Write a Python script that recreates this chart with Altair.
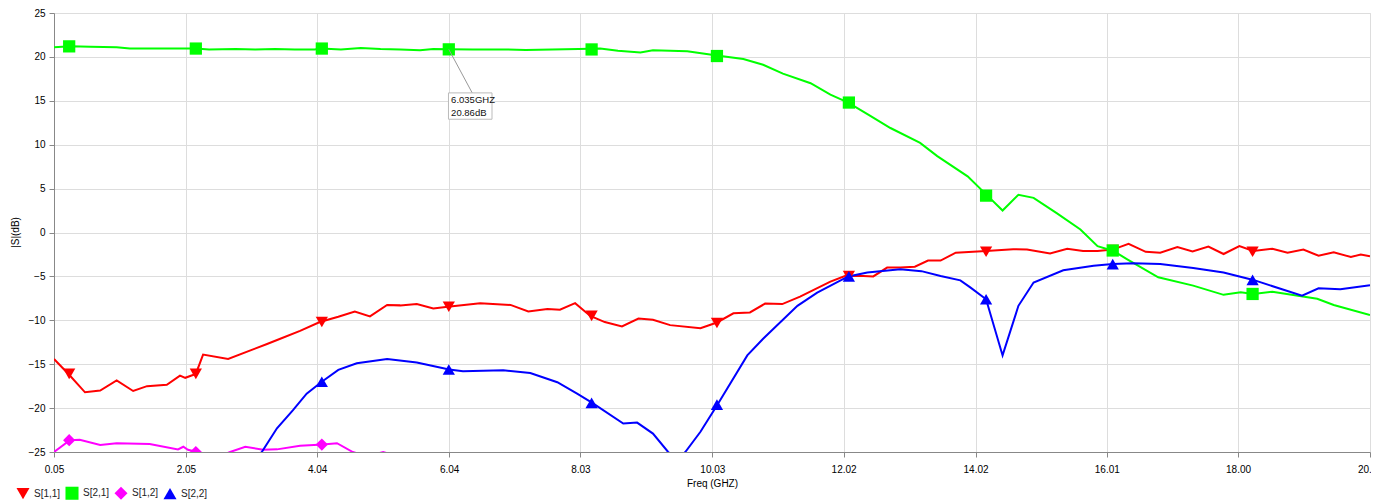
import altair as alt
import pandas as pd

SERIES = ["S[1,1]", "S[2,1]", "S[1,2]", "S[2,2]"]
COLORS = ["#FF0000", "#00FF00", "#FF00FF", "#0000FF"]
SHAPES = ["triangle-down", "square", "diamond", "triangle-up"]

X_TICKS = [0.05, 2.05, 4.04, 6.04, 8.03, 10.03, 12.02, 14.02, 16.01, 18.00, 20.00]
Y_TICKS = [-25, -20, -15, -10, -5, 0, 5, 10, 15, 20, 25]

# S[2,1]
s21_f = [0.05, 0.3, 0.6, 1.0, 1.2, 1.6, 2.0, 2.2, 2.4, 2.8, 3.1, 3.4, 3.7, 4.0, 4.1, 4.4, 4.7,
         5.0, 5.3, 5.6, 5.8, 6.035, 6.4, 6.8, 7.2, 7.6, 8.0, 8.33, 8.6, 8.94, 9.13, 9.65, 10.1,
         10.5, 10.8, 11.1, 11.52, 11.82, 12.09, 12.4, 12.73, 13.18, 13.44, 13.9, 14.2, 14.43,
         14.67, 14.9, 15.25, 15.61, 15.87, 16.11, 16.32, 16.79, 17.32, 17.78, 18.04, 18.23,
         18.52, 19.2, 19.45, 20.0]
s21_db = [21.1, 21.2, 21.15, 21.1, 20.95, 20.95, 20.95, 20.95, 20.85, 20.9, 20.85, 20.9, 20.85,
          20.85, 20.95, 20.85, 21.0, 20.9, 20.85, 20.75, 20.9, 20.86, 20.85, 20.85, 20.8, 20.85,
          20.9, 20.95, 20.7, 20.5, 20.75, 20.65, 20.15, 19.75, 19.1, 18.1, 17.0, 15.7, 14.8,
          13.4, 11.9, 10.2, 8.7, 6.4, 4.2, 2.5, 4.3, 3.95, 2.2, 0.35, -1.55, -2.1, -3.05, -5.1,
          -6.05, -7.1, -6.8, -7.0, -6.75, -7.55, -8.25, -9.4]

# S[1,1]
s11_f = [0.05, 0.28, 0.52, 0.75, 1.0, 1.25, 1.46, 1.76, 1.96, 2.04, 2.2, 2.31, 2.69, 3.28, 3.48,
         3.78, 4.08, 4.36, 4.61, 4.84, 5.1, 5.3, 5.55, 5.8, 6.02, 6.51, 6.97, 7.24, 7.53, 7.72,
         7.95, 8.18, 8.4, 8.66, 8.91, 9.13, 9.39, 9.85, 10.1, 10.35, 10.6, 10.83, 11.09, 11.36,
         11.82, 12.04, 12.32, 12.47, 12.68, 12.88, 13.1, 13.3, 13.49, 13.72, 14.18, 14.59, 14.8,
         15.15, 15.41, 15.65, 15.87, 16.1, 16.34, 16.6, 16.82, 17.08, 17.31, 17.55, 17.78,
         18.02, 18.23, 18.52, 18.75, 18.99, 19.22, 19.45, 19.71, 19.86, 20.0]
s11_db = [-14.4, -16.2, -18.2, -18.0, -16.85, -18.05, -17.5, -17.35, -16.3, -16.55, -16.1, -13.9,
          -14.4, -12.7, -12.1, -11.2, -10.2, -9.6, -9.0, -9.55, -8.25, -8.3, -8.15, -8.65, -8.45,
          -8.05, -8.25, -9.0, -8.7, -8.8, -8.05, -9.5, -10.2, -10.7, -9.8, -9.95, -10.55, -10.9,
          -10.25, -9.2, -9.1, -8.1, -8.15, -7.3, -5.6, -4.95, -4.95, -5.0, -4.0, -4.0, -3.9,
          -3.2, -3.2, -2.3, -2.1, -1.9, -1.95, -2.4, -1.85, -2.1, -2.1, -1.95, -1.3, -2.2, -2.3,
          -1.65, -2.15, -1.6, -2.45, -1.55, -2.1, -1.85, -2.3, -1.95, -2.65, -2.25, -2.8, -2.5,
          -2.7]

# S[1,2]
s12_f = [0.05, 0.29, 0.44, 0.75, 1.0, 1.5, 1.93, 2.01, 2.08, 2.22, 2.45, 2.72, 2.95, 3.22, 3.43,
         3.78, 4.13, 4.34, 4.58, 4.8, 5.04, 5.3]
s12_db = [-25.0, -23.65, -23.6, -24.2, -24.0, -24.1, -24.7, -24.4, -24.75, -25.0, -25.8, -25.0,
          -24.4, -24.75, -24.7, -24.3, -24.15, -24.0, -25.0, -25.5, -25.0, -25.6]

# S[2,2]
s22_f = [2.9, 3.2, 3.43, 3.67, 3.88, 4.11, 4.36, 4.64, 5.1, 5.55, 6.04, 6.25, 6.86, 7.27, 7.68,
         7.98, 8.21, 8.68, 8.89, 9.13, 9.36, 9.5, 9.62, 9.85, 10.1, 10.56, 10.8, 11.32, 11.62,
         12.09, 12.38, 12.88, 13.2, 13.49, 13.79, 13.94, 14.18, 14.43, 14.67, 14.9, 15.35,
         15.81, 16.1, 16.41, 16.82, 17.32, 17.78, 18.23, 18.97, 19.22, 19.55, 20.0]
s22_db = [-27.0, -25.0, -22.3, -20.25, -18.35, -17.0, -15.65, -14.9, -14.4, -14.8, -15.6, -15.8,
          -15.7, -16.0, -17.05, -18.35, -19.4, -21.75, -21.65, -22.9, -25.0, -25.8, -25.0,
          -22.7, -19.7, -14.0, -12.1, -8.35, -6.85, -5.0, -4.55, -4.2, -4.4, -4.95, -5.45,
          -6.25, -7.6, -14.0, -8.35, -5.7, -4.3, -3.8, -3.6, -3.5, -3.6, -4.05, -4.55, -5.4,
          -7.2, -6.35, -6.45, -6.0]

# markers
m11_f = [0.28, 2.2, 4.11, 6.035, 8.2, 10.1, 12.1, 14.18, 16.1, 18.22]
m11_db = [-16.1, -16.1, -10.2, -8.45, -9.5, -10.3, -4.95, -2.2, -2.0, -2.2]
m21_f = [0.28, 2.2, 4.11, 6.035, 8.2, 10.1, 12.1, 14.18, 16.1, 18.22]
m21_db = [21.2, 20.95, 20.95, 20.86, 20.85, 20.1, 14.8, 4.2, -2.05, -7.0]
m12_f = [0.28, 2.2, 4.11]
m12_db = [-23.65, -25.0, -24.15]
m22_f = [4.11, 6.035, 8.2, 10.1, 12.1, 14.18, 16.1, 18.22]
m22_db = [-17.0, -15.6, -19.4, -19.6, -5.0, -7.6, -3.6, -5.4]

# annotation
ann_f, ann_db = 6.035, 20.86
ann_lines = ["6.035GHZ", "20.86dB"]
ann_box_f = [6.03, 6.69]
ann_box_db = [15.9, 12.9]
ann_text_f = 6.07
ann_text_db = [15.05, 13.65]
ann_leader_end = (6.39, 15.9)

FONT = "Liberation Sans"

xs = alt.Scale(domain=[0.05, 20.0], nice=False, zero=False)
ys = alt.Scale(domain=[-25, 25], nice=False, zero=False)

x_axis = alt.Axis(values=X_TICKS, format=".2f", grid=True, labelFlush=False,
                  labelOverlap=False, labelPadding=7, titlePadding=4,
                  titleFontWeight="normal", titleFont=FONT, titleFontSize=10)
y_axis = alt.Axis(values=Y_TICKS, grid=True, labelPadding=4, titleX=-39, titleY=219,
                  titleAlign="center", titleBaseline="middle", labelFlush=False,
                  titleFontWeight="normal", titleFont=FONT, titleFontSize=10)


def X(field="f"):
    return alt.X(f"{field}:Q", scale=xs, axis=x_axis, title="Freq (GHZ)")


def Y(field="db"):
    return alt.Y(f"{field}:Q", scale=ys, axis=y_axis, title="|S|(dB)")


line_sets = [(s11_f, s11_db), (s21_f, s21_db), (s12_f, s12_db), (s22_f, s22_db)]
layers = []
for name, color, (fs, ds) in zip(SERIES, COLORS, line_sets):
    df = pd.DataFrame({"f": fs, "db": ds, "i": range(len(fs))})
    layers.append(
        alt.Chart(df).mark_line(strokeWidth=2, clip=True, color=color)
        .encode(x=X(), y=Y(), order="i:Q")
    )

mk_rows = []
for name, fs, ds in zip(SERIES, [m11_f, m21_f, m12_f, m22_f], [m11_db, m21_db, m12_db, m22_db]):
    for f, d in zip(fs, ds):
        mk_rows.append({"series": name, "f": f, "db": d})
mk_df = pd.DataFrame(mk_rows)

legend = alt.Legend(orient="none", legendX=-38, legendY=473, direction="horizontal",
                    title=None, symbolSize=170, labelFontSize=10, labelOffset=4,
                    columnPadding=4, symbolStrokeWidth=0, padding=0, columns=4,
                    labelFont=FONT, labelColor="#222")
points = alt.Chart(mk_df).mark_point(filled=True, size=150, opacity=1, clip=True).encode(
    x=X(), y=Y(),
    color=alt.Color("series:N", scale=alt.Scale(domain=SERIES, range=COLORS), legend=legend),
    shape=alt.Shape("series:N", scale=alt.Scale(domain=SERIES, range=SHAPES), legend=legend),
)
layers.append(points)

leader_df = pd.DataFrame({"f": [ann_f], "db": [ann_db], "f2": [ann_leader_end[0]],
                          "db2": [ann_leader_end[1]]})
leader = alt.Chart(leader_df).mark_rule(color="#999999", strokeWidth=1).encode(
    x=X(), y=Y(), x2="f2:Q", y2="db2:Q")
box_df = pd.DataFrame({"f": [ann_box_f[0]], "f2": [ann_box_f[1]],
                       "db": [ann_box_db[0]], "db2": [ann_box_db[1]]})
box = alt.Chart(box_df).mark_rect(fill="white", stroke="#BBBBBB", strokeWidth=1).encode(
    x=X(), x2="f2:Q", y=Y(), y2="db2:Q")
txt_df = pd.DataFrame({"f": [ann_text_f, ann_text_f], "db": ann_text_db, "t": ann_lines})
txt = alt.Chart(txt_df).mark_text(align="left", baseline="middle", font=FONT, fontSize=9.5,
                                  color="#111").encode(x=X(), y=Y(), text="t:N")
layers += [leader, box, txt]

chart = alt.layer(*layers).properties(
    width=1316, height=439,
    autosize=alt.AutoSizeParams(type="none"),
    padding={"left": 46, "top": 5, "right": 1, "bottom": 48},
).configure_view(fill="#F0FFFF", stroke=None).configure_axis(
    gridColor="#8C8C8C", gridWidth=1, gridOpacity=1, domain=False, ticks=False,
    labelFont=FONT, labelFontSize=9, labelColor="#333333",
    titleFont=FONT, titleFontSize=10, titleFontWeight="normal", titleColor="#333333",
).configure(background="white")

chart.save("out.html", embed_options={"renderer": "svg", "actions": False})
